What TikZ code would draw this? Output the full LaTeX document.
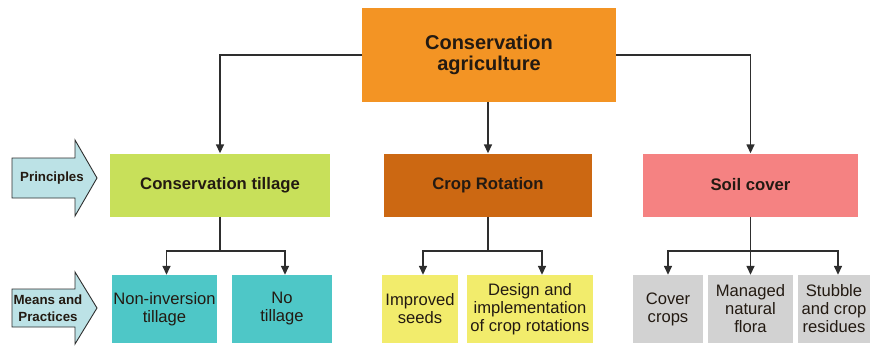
\documentclass[tikz,border=0pt]{standalone}
\usepackage{fontspec}
\setmainfont{Liberation Sans}
\usetikzlibrary{arrows.meta,calc}
\definecolor{topc}{HTML}{F39424}
\definecolor{ctc}{HTML}{C8E05A}
\definecolor{crc}{HTML}{CC6812}
\definecolor{scc}{HTML}{F58282}
\definecolor{tealc}{HTML}{4EC7C7}
\definecolor{yelc}{HTML}{F2EC6C}
\definecolor{grayc}{HTML}{D2D2D2}
\definecolor{arrc}{HTML}{BCE2E6}
\definecolor{linec}{HTML}{2E2E2E}
\definecolor{txtc}{HTML}{231A12}
\tikzset{
  box/.style={rectangle, inner sep=0pt, align=center, text=txtc},
  topbox/.style={box, fill=topc, font=\fontsize{20}{21.5}\selectfont\bfseries},
  prinbox/.style={box, font=\fontsize{16.7}{19}\selectfont\bfseries, minimum height=63pt},
  meanbox/.style={box, font=\fontsize{16.6}{18}\selectfont, minimum height=68pt},
  conn/.style={draw=linec, line width=1.5pt},
  arr/.style={conn, -{Triangle[length=9pt,width=8pt]}},
  sidearrow/.style={draw=linec, line width=0.9pt, fill=arrc},
  sidetext/.style={inner sep=0pt, align=center, text=txtc, font=\fontsize{13.3}{17}\selectfont\bfseries}
}
\begin{document}
\begin{tikzpicture}[x=1pt,y=-1pt]
\useasboundingbox (0,0) rectangle (870,346);
% top
\node[topbox, minimum width=254pt, minimum height=94pt] (top) at (489,55) {Conservation\\agriculture};
% principles row
\node[prinbox, fill=ctc, minimum width=220pt] (ct) at (220,185) {Conservation tillage};
\node[prinbox, fill=crc, minimum width=208pt] (cr) at (488,185) {Crop Rotation};
\node[prinbox, fill=scc, minimum width=215pt] (sc) at (750.5,185) {Soil cover};
% means row
\node[meanbox, fill=tealc, minimum width=105pt] (ni) at (164.5,309) {Non-inversion\\tillage};
\node[meanbox, fill=tealc, minimum width=100pt] (nt) at (282,309) {No\\tillage};
\node[meanbox, fill=yelc, minimum width=76pt] (is) at (420,309) {Improved\\seeds};
\node[meanbox, fill=yelc, minimum width=126pt] (ds) at (530,309) {Design and\\implementation\\of crop rotations};
\node[meanbox, fill=grayc, minimum width=70pt] (cc) at (668,309) {Cover\\crops};
\node[meanbox, fill=grayc, minimum width=85pt] (mf) at (750.5,309) {Managed\\natural\\flora};
\node[meanbox, fill=grayc, minimum width=72pt] (sb) at (834,309) {Stubble\\and crop\\residues};
% side arrows
\draw[sidearrow] (12,158) -- (75,158) -- (75,140) -- (97,178) -- (75,216) -- (75,198) -- (12,198) -- cycle;
\node[sidetext] (pr) at (52,178) {Principles};
\draw[sidearrow] (12,289) -- (75,289) -- (75,272) -- (97,308) -- (75,344) -- (75,327) -- (12,327) -- cycle;
\node[sidetext] (mp) at (48,308) {Means and\\Practices};
% connectors from top
\draw[arr] (top.west) -| (ct.north);
\draw[arr] (top.east) -| (sc.north);
\draw[arr] (top.south -| cr.north) -- (cr.north);
% branch points
\coordinate (b1) at (220,251);
\coordinate (b2) at (488,251);
\coordinate (b3) at (750.5,251);
\draw[conn] (ct.south) -- (b1);
\draw[arr] (b1) -| ([xshift=2pt]ni.north);
\draw[arr] (b1) -| ([xshift=3pt]nt.north);
\draw[conn] (cr.south) -- (b2);
\draw[arr] (b2) -| ([xshift=3pt]is.north);
\draw[arr] (b2) -| ([xshift=12pt]ds.north);
\draw[conn] (sc.south) -- (b3);
\draw[arr] (b3) -| (cc.north);
\draw[arr] (b3) -- (mf.north);
\draw[arr] (b3) -| ([xshift=4pt]sb.north);
\end{tikzpicture}
\end{document}
